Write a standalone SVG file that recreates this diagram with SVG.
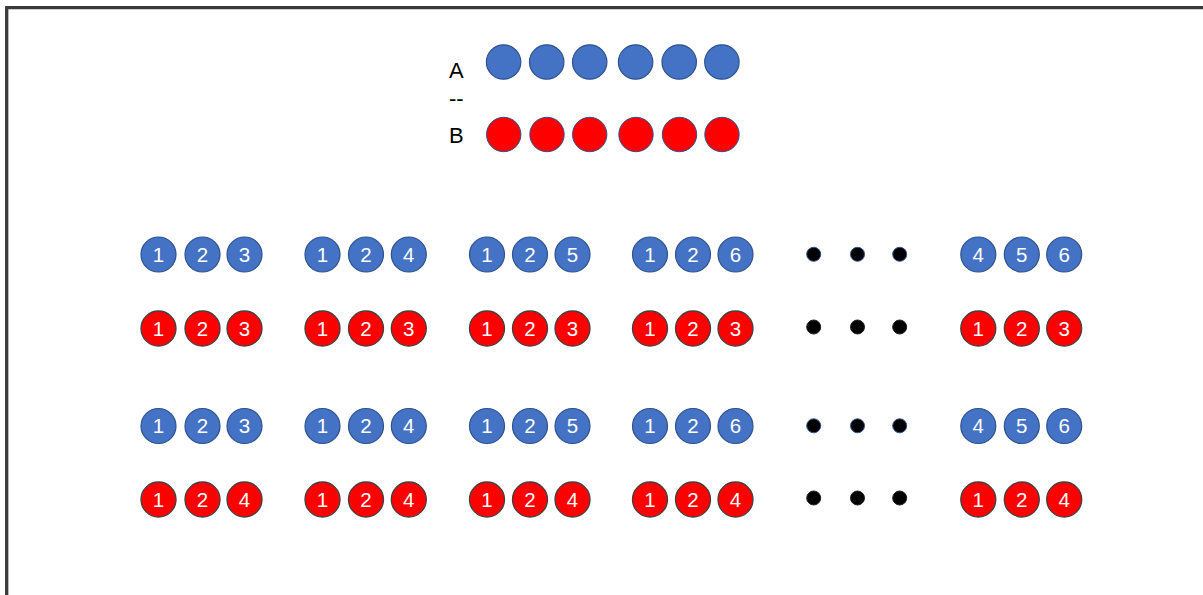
<svg xmlns="http://www.w3.org/2000/svg" width="1203" height="595" viewBox="0 0 1203 595">
<style>
.b{fill:#4472C4;stroke:#2F528F;stroke-width:1.2}
.r{fill:#FF0000;stroke:#404040;stroke-width:1.3}
.rt{fill:#FF0000;stroke:#2F528F;stroke-width:1}
.d{fill:#000;stroke:#2F528F;stroke-width:1}
.dr{fill:#000;stroke:#222;stroke-width:1}
.n{font-family:"Liberation Sans",Arial,sans-serif;font-size:20.5px;fill:#fff;text-anchor:middle}
.l{font-family:"Liberation Sans",Arial,sans-serif;font-size:22px;fill:#000}
</style>
<rect width="1203" height="595" fill="#fff"/>
<g id="frame"><path d="M6.7,595 V7.6 H1203" fill="none" stroke="#3a3a3a" stroke-width="3.3"/></g>
<g id="labels">
<text class="l" x="449" y="78">A</text>
<text class="l" x="449" y="106">--</text>
<text class="l" x="449" y="143">B</text>
</g>
<g id="setA">
<circle class="b" cx="503.6" cy="62" r="17.2"/><circle class="b" cx="546.7" cy="62" r="17.2"/><circle class="b" cx="589.7" cy="62" r="17.2"/><circle class="b" cx="635.6" cy="62" r="17.2"/><circle class="b" cx="679.2" cy="62" r="17.2"/><circle class="b" cx="721.9" cy="62" r="17.2"/>
</g>
<g id="setB">
<circle class="rt" cx="503.7" cy="134.5" r="17.2"/><circle class="rt" cx="547" cy="134.5" r="17.2"/><circle class="rt" cx="589.7" cy="134.5" r="17.2"/><circle class="rt" cx="636" cy="134.5" r="17.2"/><circle class="rt" cx="679.5" cy="134.5" r="17.2"/><circle class="rt" cx="722" cy="134.5" r="17.2"/>
</g>
<g id="row1">
<g id="r1g1"><circle class="b" cx="158.5" cy="254.5" r="17.5"/><text class="n" x="158.5" y="261.8">1</text><circle class="b" cx="202.5" cy="254.5" r="17.5"/><text class="n" x="202.5" y="261.8">2</text><circle class="b" cx="244.5" cy="254.5" r="17.5"/><text class="n" x="244.5" y="261.8">3</text></g>
<g id="r1g2"><circle class="b" cx="322.5" cy="254.5" r="17.5"/><text class="n" x="322.5" y="261.8">1</text><circle class="b" cx="366" cy="254.5" r="17.5"/><text class="n" x="366" y="261.8">2</text><circle class="b" cx="408.8" cy="254.5" r="17.5"/><text class="n" x="408.8" y="261.8">4</text></g>
<g id="r1g3"><circle class="b" cx="487" cy="254.5" r="17.5"/><text class="n" x="487" y="261.8">1</text><circle class="b" cx="530" cy="254.5" r="17.5"/><text class="n" x="530" y="261.8">2</text><circle class="b" cx="572.5" cy="254.5" r="17.5"/><text class="n" x="572.5" y="261.8">5</text></g>
<g id="r1g4"><circle class="b" cx="650" cy="254.5" r="17.5"/><text class="n" x="650" y="261.8">1</text><circle class="b" cx="693" cy="254.5" r="17.5"/><text class="n" x="693" y="261.8">2</text><circle class="b" cx="735.5" cy="254.5" r="17.5"/><text class="n" x="735.5" y="261.8">6</text></g>
<g id="r1dots"><circle class="d" cx="813.7" cy="254.3" r="7"/><circle class="d" cx="857.5" cy="254.3" r="7"/><circle class="d" cx="899.7" cy="254.3" r="7"/></g>
<g id="r1g6"><circle class="b" cx="978.3" cy="254.5" r="17.5"/><text class="n" x="978.3" y="261.8">4</text><circle class="b" cx="1021.8" cy="254.5" r="17.5"/><text class="n" x="1021.8" y="261.8">5</text><circle class="b" cx="1064.2" cy="254.5" r="17.5"/><text class="n" x="1064.2" y="261.8">6</text></g>
</g>
<g id="row2">
<g id="r2g1"><circle class="r" cx="158.5" cy="328.5" r="17.5"/><text class="n" x="158.5" y="335.8">1</text><circle class="r" cx="202.5" cy="328.5" r="17.5"/><text class="n" x="202.5" y="335.8">2</text><circle class="r" cx="244.5" cy="328.5" r="17.5"/><text class="n" x="244.5" y="335.8">3</text></g>
<g id="r2g2"><circle class="r" cx="322.5" cy="328.5" r="17.5"/><text class="n" x="322.5" y="335.8">1</text><circle class="r" cx="366" cy="328.5" r="17.5"/><text class="n" x="366" y="335.8">2</text><circle class="r" cx="408.8" cy="328.5" r="17.5"/><text class="n" x="408.8" y="335.8">3</text></g>
<g id="r2g3"><circle class="r" cx="487" cy="328.5" r="17.5"/><text class="n" x="487" y="335.8">1</text><circle class="r" cx="530" cy="328.5" r="17.5"/><text class="n" x="530" y="335.8">2</text><circle class="r" cx="572.5" cy="328.5" r="17.5"/><text class="n" x="572.5" y="335.8">3</text></g>
<g id="r2g4"><circle class="r" cx="650" cy="328.5" r="17.5"/><text class="n" x="650" y="335.8">1</text><circle class="r" cx="693" cy="328.5" r="17.5"/><text class="n" x="693" y="335.8">2</text><circle class="r" cx="735.5" cy="328.5" r="17.5"/><text class="n" x="735.5" y="335.8">3</text></g>
<g id="r2dots"><circle class="dr" cx="813.7" cy="327" r="7"/><circle class="dr" cx="857.5" cy="327" r="7"/><circle class="dr" cx="899.7" cy="327" r="7"/></g>
<g id="r2g6"><circle class="r" cx="978.3" cy="328.5" r="17.5"/><text class="n" x="978.3" y="335.8">1</text><circle class="r" cx="1021.8" cy="328.5" r="17.5"/><text class="n" x="1021.8" y="335.8">2</text><circle class="r" cx="1064.2" cy="328.5" r="17.5"/><text class="n" x="1064.2" y="335.8">3</text></g>
</g>
<g id="row3">
<g id="r3g1"><circle class="b" cx="158.5" cy="426" r="17.5"/><text class="n" x="158.5" y="433.3">1</text><circle class="b" cx="202.5" cy="426" r="17.5"/><text class="n" x="202.5" y="433.3">2</text><circle class="b" cx="244.5" cy="426" r="17.5"/><text class="n" x="244.5" y="433.3">3</text></g>
<g id="r3g2"><circle class="b" cx="322.5" cy="426" r="17.5"/><text class="n" x="322.5" y="433.3">1</text><circle class="b" cx="366" cy="426" r="17.5"/><text class="n" x="366" y="433.3">2</text><circle class="b" cx="408.8" cy="426" r="17.5"/><text class="n" x="408.8" y="433.3">4</text></g>
<g id="r3g3"><circle class="b" cx="487" cy="426" r="17.5"/><text class="n" x="487" y="433.3">1</text><circle class="b" cx="530" cy="426" r="17.5"/><text class="n" x="530" y="433.3">2</text><circle class="b" cx="572.5" cy="426" r="17.5"/><text class="n" x="572.5" y="433.3">5</text></g>
<g id="r3g4"><circle class="b" cx="650" cy="426" r="17.5"/><text class="n" x="650" y="433.3">1</text><circle class="b" cx="693" cy="426" r="17.5"/><text class="n" x="693" y="433.3">2</text><circle class="b" cx="735.5" cy="426" r="17.5"/><text class="n" x="735.5" y="433.3">6</text></g>
<g id="r3dots"><circle class="d" cx="813.7" cy="425.8" r="7"/><circle class="d" cx="857.5" cy="425.8" r="7"/><circle class="d" cx="899.7" cy="425.8" r="7"/></g>
<g id="r3g6"><circle class="b" cx="978.3" cy="426" r="17.5"/><text class="n" x="978.3" y="433.3">4</text><circle class="b" cx="1021.8" cy="426" r="17.5"/><text class="n" x="1021.8" y="433.3">5</text><circle class="b" cx="1064.2" cy="426" r="17.5"/><text class="n" x="1064.2" y="433.3">6</text></g>
</g>
<g id="row4">
<g id="r4g1"><circle class="r" cx="158.5" cy="499.5" r="17.5"/><text class="n" x="158.5" y="506.8">1</text><circle class="r" cx="202.5" cy="499.5" r="17.5"/><text class="n" x="202.5" y="506.8">2</text><circle class="r" cx="244.5" cy="499.5" r="17.5"/><text class="n" x="244.5" y="506.8">4</text></g>
<g id="r4g2"><circle class="r" cx="322.5" cy="499.5" r="17.5"/><text class="n" x="322.5" y="506.8">1</text><circle class="r" cx="366" cy="499.5" r="17.5"/><text class="n" x="366" y="506.8">2</text><circle class="r" cx="408.8" cy="499.5" r="17.5"/><text class="n" x="408.8" y="506.8">4</text></g>
<g id="r4g3"><circle class="r" cx="487" cy="499.5" r="17.5"/><text class="n" x="487" y="506.8">1</text><circle class="r" cx="530" cy="499.5" r="17.5"/><text class="n" x="530" y="506.8">2</text><circle class="r" cx="572.5" cy="499.5" r="17.5"/><text class="n" x="572.5" y="506.8">4</text></g>
<g id="r4g4"><circle class="r" cx="650" cy="499.5" r="17.5"/><text class="n" x="650" y="506.8">1</text><circle class="r" cx="693" cy="499.5" r="17.5"/><text class="n" x="693" y="506.8">2</text><circle class="r" cx="735.5" cy="499.5" r="17.5"/><text class="n" x="735.5" y="506.8">4</text></g>
<g id="r4dots"><circle class="dr" cx="813.7" cy="498" r="7"/><circle class="dr" cx="857.5" cy="498" r="7"/><circle class="dr" cx="899.7" cy="498" r="7"/></g>
<g id="r4g6"><circle class="r" cx="978.3" cy="499.5" r="17.5"/><text class="n" x="978.3" y="506.8">1</text><circle class="r" cx="1021.8" cy="499.5" r="17.5"/><text class="n" x="1021.8" y="506.8">2</text><circle class="r" cx="1064.2" cy="499.5" r="17.5"/><text class="n" x="1064.2" y="506.8">4</text></g>
</g>
<g id="connectors"></g>
</svg>
